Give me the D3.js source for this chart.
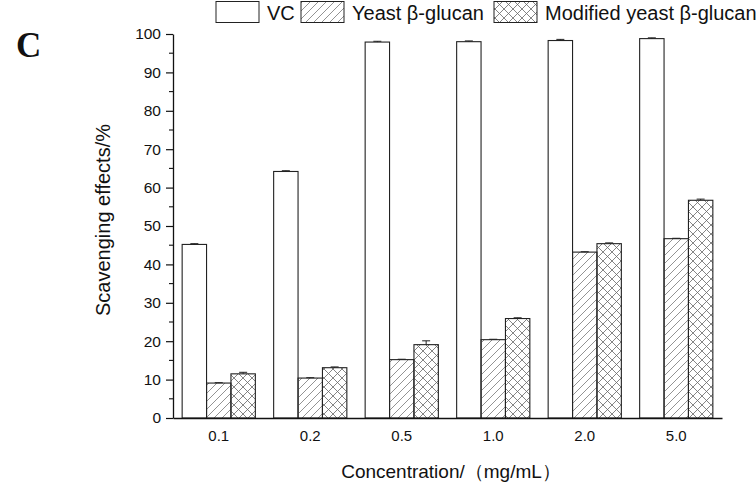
<!DOCTYPE html>
<html><head><meta charset="utf-8">
<script src="https://cdn.jsdelivr.net/npm/d3@7"></script>
<style>body{margin:0;background:#fff}svg{display:block}</style>
</head><body>
<svg id="c" width="756" height="483"></svg>
<script>
const categories = ["0.1","0.2","0.5","1.0","2.0","5.0"];
const seriesNames = ["VC","Yeast β-glucan","Modified yeast β-glucan"];
const vcValues = [45.2, 64.2, 97.9, 98.0, 98.3, 98.8];
const yeastValues = [9.1, 10.4, 15.2, 20.4, 43.2, 46.7];
const modifiedValues = [11.5, 13.1, 19.1, 25.9, 45.4, 56.7];
const vcErr = [0.2, 0.2, 0.2, 0.2, 0.3, 0.2];
const yeastErr = [0.1, 0.1, 0.1, 0.1, 0.1, 0.1];
const modifiedErr = [0.4, 0.2, 1.0, 0.2, 0.2, 0.3];
const yTicks = [0,10,20,30,40,50,60,70,80,90,100];

const FONT = "Liberation Sans, Arial, sans-serif";
const svg = d3.select("#c");
const defs = svg.append("defs");
const p1 = defs.append("pattern").attr("id","diag").attr("patternUnits","userSpaceOnUse")
  .attr("width",8).attr("height",8);
p1.append("path").attr("d","M0,8 L8,0 M-2,2 L2,-2 M6,10 L10,6").attr("stroke","#777").attr("stroke-width",0.8);
const p2 = defs.append("pattern").attr("id","cross").attr("patternUnits","userSpaceOnUse")
  .attr("width",9).attr("height",9);
p2.append("path").attr("d","M0,9 L9,0 M-2,2 L2,-2 M7,11 L11,7 M0,0 L9,9 M-2,7 L2,11 M7,-2 L11,2").attr("stroke","#666").attr("stroke-width",0.8);

const fills = ["#fff","url(#diag)","url(#cross)"];
const series = [vcValues, yeastValues, modifiedValues];
const errs = [vcErr, yeastErr, modifiedErr];

const x0 = d3.scaleBand().domain(categories).range([173, 722]).paddingInner(0.2).paddingOuter(0.1);
const x1 = d3.scaleBand().domain([0,1,2]).range([0, x0.bandwidth()]);
const y = d3.scaleLinear().domain([0,100]).range([418, 34]);

// bars
const g = svg.append("g");
categories.forEach((c, i) => {
  series.forEach((s, k) => {
    const bx = x0(c) + x1(k);
    g.append("rect").attr("x", bx).attr("y", y(s[i])).attr("width", x1.bandwidth())
      .attr("height", y(0) - y(s[i])).attr("fill", fills[k])
      .attr("stroke", "#222").attr("stroke-width", 1.1);
    const cx = bx + x1.bandwidth()/2;
    const e = errs[k][i];
    g.append("line").attr("x1",cx).attr("x2",cx).attr("y1",y(s[i])).attr("y2",y(s[i]+e)).attr("stroke","#222");
    g.append("line").attr("x1",cx-4).attr("x2",cx+4).attr("y1",y(s[i]+e)).attr("y2",y(s[i]+e)).attr("stroke","#222");
  });
});

// y axis
const yAxis = d3.axisLeft(y).tickValues(yTicks).tickSize(7).tickPadding(5).tickSizeOuter(0);
const ya = svg.append("g").attr("transform","translate(173,0)").call(yAxis);
ya.select(".domain").attr("stroke","#111").attr("stroke-width",1.3);
ya.selectAll(".tick line").attr("stroke","#111").attr("stroke-width",1.2);
ya.selectAll("text").attr("font-family",FONT).attr("font-size",15.5).attr("fill","#111");
// minor ticks
const minor = d3.range(5, 100, 10);
svg.append("g").selectAll("line").data(minor).join("line")
  .attr("x1",173).attr("x2",169).attr("y1",d=>y(d)).attr("y2",d=>y(d)).attr("stroke","#111").attr("stroke-width",1.1);

// x axis
const xAxis = d3.axisBottom(x0).tickSize(0).tickPadding(12).tickSizeOuter(0);
const xa = svg.append("g").attr("transform","translate(0,418)").call(xAxis);
xa.select(".domain").attr("stroke","#111").attr("stroke-width",1.3);
xa.selectAll("text").attr("font-family",FONT).attr("font-size",15).attr("fill","#111");

// axis titles
svg.append("text").attr("transform","translate(110,220) rotate(-90)").attr("text-anchor","middle")
  .attr("font-family",FONT).attr("font-size",20).attr("fill","#111")
  .text("Scavenging effects/%");
svg.append("text").attr("x",451).attr("y",478).attr("text-anchor","middle")
  .attr("font-family",FONT).attr("font-size",19).attr("fill","#111")
  .text("Concentration/（mg/mL）");

// panel label
svg.append("text").attr("x",16).attr("y",57).attr("font-family","Liberation Serif, Times New Roman, serif")
  .attr("font-weight","bold").attr("font-size",35).attr("fill","#111").text("C");

// legend
const legX = [216, 301, 494];
const leg = svg.append("g");
seriesNames.forEach((n, k) => {
  leg.append("rect").attr("x", legX[k]).attr("y", 1.5).attr("width", 43).attr("height", 21)
    .attr("fill", fills[k]).attr("stroke","#222").attr("stroke-width",1);
  leg.append("text").attr("x", legX[k] + 51).attr("y", 19.5)
    .attr("font-family",FONT).attr("font-size",20).attr("fill","#111").text(n);
});
</script>
</body></html>
